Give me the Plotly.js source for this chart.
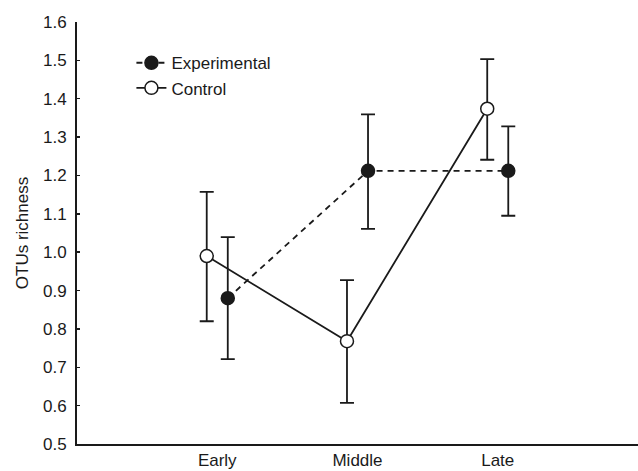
<!DOCTYPE html>
<html>
<head>
<meta charset="utf-8">
<script src="https://cdn.plot.ly/plotly-3.0.1.min.js"></script>
<style>html,body{margin:0;padding:0;background:#fff;}#chart{width:638px;height:471px;}</style>
</head>
<body>
<div id="chart"></div>
<script>
const categories = ["Early", "Middle", "Late"];
const experimentalMean = [0.88, 1.212, 1.212];
const experimentalUpper = [1.039, 1.359, 1.328];
const experimentalLower = [0.721, 1.061, 1.095];
const controlMean = [0.99, 0.768, 1.374];
const controlUpper = [1.157, 0.927, 1.503];
const controlLower = [0.82, 0.607, 1.241];
const yTicks = [0.5, 0.6, 0.7, 0.8, 0.9, 1.0, 1.1, 1.2, 1.3, 1.4, 1.5, 1.6];

const offset = 0.075;
const pos = categories.map((c, i) => i + 1);
const ink = '#1a1a1a';
const font = {family: 'Liberation Sans, Arial, sans-serif', size: 17, color: ink};

function errs(mean, up, lo) {
  return {
    type: 'data', symmetric: false,
    array: mean.map((m, i) => up[i] - m),
    arrayminus: mean.map((m, i) => m - lo[i]),
    color: ink, thickness: 1.8, width: 7
  };
}

const control = {
  x: pos.map(p => p - offset), y: controlMean, name: 'Control',
  mode: 'lines+markers', type: 'scatter',
  line: {color: ink, width: 1.8},
  marker: {symbol: 'circle', size: 13, color: '#ffffff', line: {color: ink, width: 1.5}},
  error_y: errs(controlMean, controlUpper, controlLower)
};
const experimental = {
  x: pos.map(p => p + offset), y: experimentalMean, name: 'Experimental',
  mode: 'lines+markers', type: 'scatter',
  line: {color: ink, width: 1.8, dash: '6px,5px'},
  marker: {symbol: 'circle', size: 13, color: ink, line: {color: ink, width: 1.5}},
  error_y: errs(experimentalMean, experimentalUpper, experimentalLower)
};

const layout = {
  width: 638, height: 471,
  margin: {l: 77, r: 0, t: 22, b: 27},
  paper_bgcolor: '#fff', plot_bgcolor: '#fff',
  font: font,
  showlegend: true,
  legend: {x: 0.097, y: 0.945, xanchor: 'left', yanchor: 'top', bgcolor: 'rgba(0,0,0,0)',
           font: font, tracegroupgap: 0, traceorder: 'normal', itemwidth: 30},
  xaxis: {
    range: [0, 4], tickvals: pos, ticktext: categories,
    showgrid: false, zeroline: false, showline: true, linecolor: ink, linewidth: 2,
    ticks: '', tickfont: font, ticklabelstandoff: 0
  },
  yaxis: {
    range: [0.5, 1.6], tickvals: yTicks, ticktext: yTicks.map(v => v.toFixed(1)),
    showgrid: false, zeroline: false, showline: true, linecolor: ink, linewidth: 2,
    ticks: 'inside', ticklen: 3, tickcolor: ink, tickwidth: 1.5, tickfont: font,
    ticklabelstandoff: 5,
    title: {text: 'OTUs richness', font: font, standoff: 10}
  }
};

Plotly.newPlot('chart', [experimental, control], layout, {displayModeBar: false, staticPlot: true});
</script>
</body>
</html>
